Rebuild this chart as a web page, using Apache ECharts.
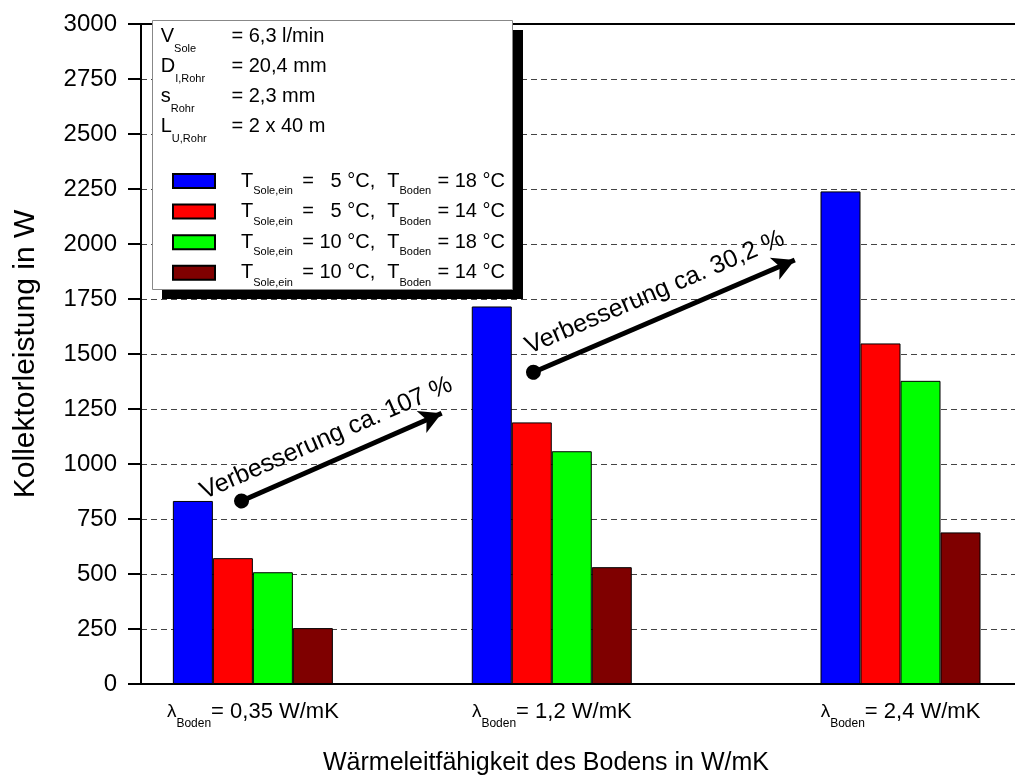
<!DOCTYPE html>
<html>
<head>
<meta charset="utf-8">
<script src="https://cdn.jsdelivr.net/npm/echarts@6/dist/echarts.min.js"></script>
<style>
html, body { margin: 0; padding: 0; background: #fff; }
#chart { width: 1015px; height: 781px; }
</style>
</head>
<body>
<div id="chart"></div>
<script>
// data
var groupLabels = ['0,35', '1,2', '2,4'];
var groupPos = [1.28, 4.70, 8.69];          // group centres on a 0..10 x scale (groups are not evenly spaced)
var soleTemps = ['5', '5', '10', '10'];
var bodenTemps = ['18', '14', '18', '14'];
var seriesColors = ['#0000ff', '#ff0000', '#00ff00', '#7f0000'];
var blueValues = [832, 1716, 2239];
var redValues = [572, 1189, 1548];
var greenValues = [508, 1058, 1378];
var brownValues = [254, 531, 689];
var allValues = [blueValues, redValues, greenValues, brownValues];

// arrows: [x, y] in axis units
var arrowStarts = [[1.15, 832], [4.49, 1417]];
var arrowEnds = [[3.44, 1231], [7.48, 1927]];
var arrowTexts = ['Verbesserung ca. 107 %', 'Verbesserung ca. 30,2 %'];
var arrowTextPos = [[2.12, 1117], [5.88, 1779]];

var infoNames = ['{m|V}{s|Sole}', '{m|D}{s|I,Rohr}', '{m|s}{s|Rohr}', '{m|L}{s|U,Rohr}'];
var infoValues = ['= 6,3 l/min', '= 20,4 mm', '= 2,3 mm', '= 2 x 40 m'];

var FONT = 'Liberation Sans, Arial, sans-serif';

var chart = echarts.init(document.getElementById('chart'));

var seriesNames = [];
for (var k = 0; k < soleTemps.length; k++) {
	seriesNames.push('T Sole,ein = ' + soleTemps[k] + ' °C, T Boden = ' + bodenTemps[k] + ' °C');
}

var series = [];
for (var i = 0; i < allValues.length; i++) {
	var d = [];
	for (var j = 0; j < groupPos.length; j++) {
		d.push([groupPos[j], allValues[i][j]]);
	}
	series.push({
		name: seriesNames[i],
		type: 'bar',
		data: d,
		barWidth: 40,
		barGap: '0%',
		itemStyle: { color: seriesColors[i], borderColor: '#000', borderWidth: 1 },
		emphasis: { disabled: true }
	});
}

// arrows live on an empty helper series so the bar offsets don't shift them
var lines = [];
for (var a = 0; a < arrowStarts.length; a++) {
	lines.push([
		{ coord: arrowStarts[a], symbol: 'circle', symbolSize: 15 },
		{ coord: arrowEnds[a], symbol: 'arrow', symbolSize: [18, 22] }
	]);
}
series.push({
	name: 'arrows',
	type: 'line',
	data: [],
	markLine: {
		silent: true,
		animation: false,
		label: { show: false },
		lineStyle: { color: '#000', width: 5, type: 'solid' },
		emphasis: { disabled: true },
		data: lines
	}
});

function nearestGroup(v) {
	var best = 0;
	for (var g = 1; g < groupPos.length; g++) {
		if (Math.abs(groupPos[g] - v) < Math.abs(groupPos[best] - v)) best = g;
	}
	return best;
}

var option = {
	animation: false,
	textStyle: { fontFamily: FONT },
	grid: { left: 141, right: 0, top: 24, bottom: 96 },
	legend: {
		orient: 'vertical',
		left: 172,
		top: 169,
		padding: 0,
		itemGap: 3.1,
		itemWidth: 42,
		itemHeight: 14,
		icon: 'rect',
		selectedMode: false,
		z: 20,
		data: seriesNames,
		formatter: function (name) {
			var idx = seriesNames.indexOf(name);
			var sole = soleTemps[idx];
			var pad = sole.length < 2 ? '   ' : ' ';
			return '{a|T}{b|Sole,ein}{c|=' + pad + sole + ' °C,}{a2|T}{d|Boden}{e|= ' + bodenTemps[idx] + ' °C}';
		},
		textStyle: {
			color: '#000',
			fontFamily: FONT,
			rich: {
				a: { fontSize: 20, fontFamily: FONT, lineHeight: 24, padding: [0, 0, 0, 21], color: '#000' },
				a2: { fontSize: 20, fontFamily: FONT, lineHeight: 24, color: '#000' },
				b: { fontSize: 11, fontFamily: FONT, lineHeight: 12, verticalAlign: 'top', padding: [16.5, 0, 0, 0], width: 49, color: '#000' },
				c: { fontSize: 20, fontFamily: FONT, lineHeight: 24, width: 85, color: '#000' },
				d: { fontSize: 11, fontFamily: FONT, lineHeight: 12, verticalAlign: 'top', padding: [16.5, 0, 0, 0], width: 38, color: '#000' },
				e: { fontSize: 20, fontFamily: FONT, lineHeight: 24, color: '#000' }
			}
		}
	},
	xAxis: [{
		type: 'value',
		min: 0,
		max: 10,
		position: 'bottom',
		name: 'Wärmeleitfähigkeit des Bodens in W/mK',
		nameLocation: 'middle',
		nameGap: 67,
		nameTextStyle: { fontSize: 25, color: '#000', fontFamily: FONT, padding: [0, 64, 0, 0] },
		axisLine: { show: true, onZero: false, lineStyle: { color: '#000', width: 2 } },
		axisTick: { show: false },
		splitLine: { show: false },
		axisLabel: {
			customValues: groupPos,
			margin: 15,
			formatter: function (v) {
				return '{l|λ}{s|Boden}{m|= ' + groupLabels[nearestGroup(v)] + ' W/mK}';
			},
			rich: {
				l: { fontSize: 19, fontFamily: FONT, lineHeight: 26, color: '#000' },
				s: { fontSize: 12, fontFamily: FONT, lineHeight: 12, verticalAlign: 'top', padding: [18.5, 0, 0, 0], color: '#000' },
				m: { fontSize: 22, fontFamily: FONT, lineHeight: 26, color: '#000' }
			}
		}
	}, {
		type: 'value',
		min: 0,
		max: 10,
		position: 'top',
		axisLine: { show: true, onZero: false, lineStyle: { color: '#000', width: 2 } },
		axisTick: { show: false },
		axisLabel: { show: false },
		splitLine: { show: false }
	}],
	yAxis: {
		type: 'value',
		min: 0,
		max: 3000,
		interval: 250,
		name: 'Kollektorleistung in W',
		nameLocation: 'middle',
		nameGap: 100,
		nameTextStyle: { fontSize: 30, color: '#000', fontFamily: FONT },
		axisLine: { show: true, lineStyle: { color: '#000', width: 2 } },
		axisTick: { show: true, length: 13, lineStyle: { color: '#000', width: 2 } },
		axisLabel: {
			fontSize: 24, color: '#000', margin: 24, fontFamily: FONT,
			formatter: function (v) { return String(v); }
		},
		splitLine: { show: true, lineStyle: { color: '#444', width: 1, type: [6, 4] } }
	},
	series: series
};

chart.setOption(option);

// info box and arrow captions
var graphics = [
	{ type: 'rect', z: 10, shape: { x: 162, y: 30, width: 361, height: 269 }, style: { fill: '#000' } },
	{ type: 'rect', z: 11, shape: { x: 152.5, y: 20.5, width: 360, height: 269 }, style: { fill: '#fff', stroke: '#888', lineWidth: 1 } },
	{
		type: 'text', z: 12, x: 160.7, y: 21.5,
		style: {
			text: infoNames.join('\n'),
			verticalAlign: 'top',
			fill: '#000',
			fontFamily: FONT,
			fontSize: 20,
			rich: {
				m: { fontSize: 20, fontFamily: FONT, lineHeight: 30, fill: '#000' },
				s: { fontSize: 11, fontFamily: FONT, lineHeight: 12, verticalAlign: 'top', padding: [21.5, 0, 0, 0], fill: '#000' }
			}
		}
	},
	{
		type: 'text', z: 12, x: 231.5, y: 21.5,
		style: { text: infoValues.join('\n'), verticalAlign: 'top', fill: '#000', fontFamily: FONT, fontSize: 20, lineHeight: 30 }
	}
];

for (var t = 0; t < arrowTexts.length; t++) {
	var p1 = chart.convertToPixel({ xAxisIndex: 0, yAxisIndex: 0 }, arrowStarts[t]);
	var p2 = chart.convertToPixel({ xAxisIndex: 0, yAxisIndex: 0 }, arrowEnds[t]);
	var c = chart.convertToPixel({ xAxisIndex: 0, yAxisIndex: 0 }, arrowTextPos[t]);
	var ang = Math.atan2(p1[1] - p2[1], p2[0] - p1[0]);
	graphics.push({
		type: 'text', z: 12, x: c[0], y: c[1], rotation: ang,
		style: { text: arrowTexts[t], align: 'center', verticalAlign: 'middle', fill: '#000', fontFamily: FONT, fontSize: 25 }
	});
}

chart.setOption({ graphic: graphics });
</script>
</body>
</html>
